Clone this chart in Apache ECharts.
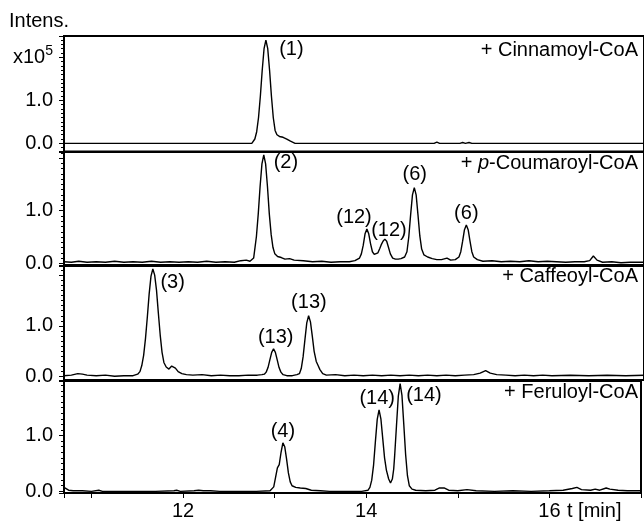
<!DOCTYPE html>
<html>
<head>
<meta charset="utf-8">
<script src="https://cdn.jsdelivr.net/npm/echarts@6/dist/echarts.min.js"></script>
<style>
html, body { margin: 0; padding: 0; background: #fff; }
#main { width: 644px; height: 521px; }
</style>
</head>
<body>
<div id="main"></div>
<script>
// retention time [min] / intensity [x10^5]
var cinnamoylTrace = [[10.70,0],[11.40,0],[12.20,0],[12.74,0],[12.753,0.03],[12.773,0.1],[12.793,0.27],[12.813,0.6],[12.833,1.1],[12.853,1.7],[12.873,2.2],[12.893,2.4],[12.913,2.2],[12.933,1.7],[12.953,1.1],[12.973,0.6],[12.993,0.3],[13.013,0.2],[13.04,0.16],[13.08,0.14],[13.12,0.1],[13.16,0.05],[13.21,0],[14.00,0],[14.72,0],[14.75,0.03],[14.78,0],[15.00,0],[15.03,0.02],[15.06,0],[15.10,0.02],[15.13,0],[16.00,0],[17.00,0]];

var coumaroylTrace = [[10.70,0.03],[10.78,0.02],[10.86,0.04],[10.95,0.02],[11.05,0.03],[11.15,0.02],[11.25,0.04],[11.35,0.02],[11.45,0.03],[11.55,0.02],[11.65,0.04],[11.75,0.02],[11.85,0.03],[11.95,0.02],[12.05,0.03],[12.15,0.02],[12.25,0.04],[12.35,0.02],[12.45,0.03],[12.55,0.02],[12.62,0.05],[12.68,0.06],[12.72,0.04],[12.76,0.1],[12.79,0.51],[12.81,0.94],[12.83,1.46],[12.85,1.89],[12.87,2.06],[12.89,1.89],[12.91,1.46],[12.93,0.94],[12.95,0.55],[12.97,0.3],[12.99,0.18],[13.02,0.13],[13.06,0.11],[13.10,0.08],[13.15,0.09],[13.20,0.06],[13.30,0.05],[13.40,0.03],[13.50,0.04],[13.60,0.02],[13.70,0.03],[13.80,0.03],[13.86,0.05],[13.91,0.1],[13.93,0.18],[13.95,0.34],[13.97,0.56],[13.99,0.65],[14.01,0.56],[14.03,0.37],[14.05,0.22],[14.07,0.17],[14.09,0.16],[14.11,0.2],[14.13,0.28],[14.145,0.35],[14.165,0.42],[14.185,0.46],[14.205,0.42],[14.225,0.3],[14.245,0.18],[14.27,0.1],[14.30,0.08],[14.33,0.08],[14.36,0.09],[14.40,0.12],[14.425,0.22],[14.445,0.5],[14.465,0.92],[14.485,1.3],[14.505,1.44],[14.525,1.3],[14.545,0.92],[14.565,0.52],[14.585,0.27],[14.61,0.16],[14.65,0.12],[14.70,0.09],[14.75,0.07],[14.80,0.07],[14.86,0.1],[14.90,0.06],[14.95,0.07],[14.99,0.12],[15.01,0.22],[15.03,0.42],[15.05,0.64],[15.07,0.73],[15.09,0.64],[15.11,0.42],[15.13,0.22],[15.15,0.12],[15.19,0.07],[15.25,0.04],[15.35,0.05],[15.45,0.03],[15.55,0.04],[15.65,0.03],[15.75,0.05],[15.85,0.03],[15.95,0.04],[16.05,0.03],[16.15,0.02],[16.25,0.03],[16.35,0.03],[16.41,0.05],[16.45,0.14],[16.49,0.06],[16.55,0.02],[16.65,0.03],[16.75,0.01],[16.85,0.02],[17.00,0.02]];

var caffeoylTrace = [[10.70,0.02],[10.78,0.03],[10.85,0.06],[10.90,0.05],[10.95,0.03],[11.05,0.02],[11.15,0.03],[11.25,0.01],[11.35,0.02],[11.45,0.02],[11.50,0.05],[11.525,0.1],[11.545,0.22],[11.565,0.42],[11.585,0.75],[11.605,1.17],[11.625,1.63],[11.645,1.98],[11.665,2.12],[11.685,2.0],[11.705,1.7],[11.725,1.25],[11.745,0.82],[11.765,0.48],[11.785,0.28],[11.81,0.19],[11.84,0.15],[11.87,0.21],[11.89,0.24],[11.91,0.17],[11.94,0.1],[11.98,0.06],[12.03,0.04],[12.10,0.03],[12.20,0.04],[12.30,0.02],[12.40,0.03],[12.50,0.02],[12.60,0.02],[12.70,0.03],[12.80,0.03],[12.85,0.04],[12.876,0.05],[12.896,0.09],[12.916,0.18],[12.936,0.33],[12.956,0.48],[12.976,0.55],[12.996,0.48],[13.016,0.33],[13.036,0.18],[13.056,0.09],[13.08,0.04],[13.12,0.02],[13.18,0.02],[13.23,0.04],[13.257,0.06],[13.277,0.16],[13.297,0.39],[13.317,0.73],[13.337,1.06],[13.357,1.2],[13.377,1.08],[13.397,0.8],[13.417,0.5],[13.44,0.3],[13.46,0.22],[13.48,0.14],[13.51,0.06],[13.55,0.03],[13.65,0.04],[13.75,0.02],[13.85,0.03],[13.95,0.02],[14.05,0.03],[14.15,0.02],[14.25,0.03],[14.35,0.02],[14.45,0.03],[14.55,0.02],[14.65,0.03],[14.75,0.02],[14.85,0.03],[14.95,0.02],[15.05,0.03],[15.15,0.04],[15.22,0.07],[15.28,0.12],[15.33,0.07],[15.40,0.04],[15.50,0.03],[15.60,0.02],[15.70,0.03],[15.80,0.02],[15.90,0.03],[16.00,0.02],[16.20,0.03],[16.40,0.02],[16.60,0.03],[16.80,0.02],[17.00,0.03]];

var feruloylTrace = [[10.70,0.07],[10.72,0.04],[10.75,0.02],[10.80,0.01],[10.90,0.01],[11.00,0.0],[11.08,0.02],[11.12,0.0],[11.30,0.0],[11.50,0.0],[11.70,0.0],[11.90,0.01],[11.93,0.02],[11.97,0.0],[12.12,0.01],[12.17,0.02],[12.22,0.01],[12.30,0.01],[12.40,0.0],[12.60,0.0],[12.80,0.0],[12.95,0.01],[12.97,0.02],[12.99,0.08],[13.01,0.25],[13.03,0.42],[13.05,0.48],[13.07,0.7],[13.09,0.87],[13.11,0.8],[13.13,0.58],[13.15,0.33],[13.17,0.17],[13.19,0.1],[13.23,0.07],[13.28,0.06],[13.34,0.05],[13.40,0.02],[13.50,0.01],[13.60,0.0],[13.80,0.0],[13.95,0.0],[14.02,0.02],[14.04,0.07],[14.06,0.2],[14.08,0.47],[14.10,0.89],[14.12,1.29],[14.14,1.46],[14.16,1.3],[14.18,0.95],[14.20,0.6],[14.22,0.38],[14.245,0.22],[14.265,0.15],[14.285,0.22],[14.30,0.4],[14.31,0.63],[14.33,1.17],[14.35,1.7],[14.37,1.93],[14.39,1.72],[14.41,1.2],[14.43,0.66],[14.45,0.28],[14.47,0.1],[14.50,0.04],[14.54,0.02],[14.65,0.01],[14.75,0.02],[14.80,0.06],[14.85,0.06],[14.90,0.02],[15.00,0.01],[15.10,0.03],[15.20,0.01],[15.40,0.0],[15.60,0.01],[15.80,0.0],[16.00,0.01],[16.15,0.02],[16.25,0.05],[16.30,0.07],[16.35,0.03],[16.45,0.02],[16.50,0.04],[16.55,0.02],[16.62,0.06],[16.66,0.04],[16.75,0.02],[16.85,0.01],[17.00,0.01]];

// peak labels: [t, intensity, text]
var cinnamoylPeaks = [[13.17, 2.17, '(1)']];
var coumaroylPeaks = [[13.11, 1.92, '(2)'], [13.85, 0.87, '(12)'], [14.23, 0.63, '(12)'], [14.51, 1.68, '(6)'], [15.07, 0.95, '(6)']];
var caffeoylPeaks = [[11.88, 1.85, '(3)'], [13.0, 0.78, '(13)'], [13.36, 1.46, '(13)']];
var feruloylPeaks = [[13.09, 1.08, '(4)'], [14.12, 1.66, '(14)'], [14.63, 1.72, '(14)']];

var substrates = ['+ Cinnamoyl-CoA', '+ {i|p}-Coumaroyl-CoA', '+ Caffeoyl-CoA', '+ Feruloyl-CoA'];
var xTickLabels = [12, 14, 16];

var FONT = 'Liberation Sans, Arial, sans-serif';
var FS = 20;

// layout of the four stacked panels
var panels = [
	{trace: cinnamoylTrace, peaks: cinnamoylPeaks, top: 36, height: 115.5, min: -0.19, max: 2.495, labelTop: 40},
	{trace: coumaroylTrace, peaks: coumaroylPeaks, top: 152, height: 113, min: -0.032, max: 2.116, labelTop: 153},
	{trace: caffeoylTrace, peaks: caffeoylPeaks, top: 266, height: 114, min: -0.065, max: 2.18, labelTop: 266.5},
	{trace: feruloylTrace, peaks: feruloylPeaks, top: 381, height: 113, min: -0.03, max: 1.977, labelTop: 382.5}
];

var grids = [], xAxes = [], yAxes = [], series = [];
var titles = [{
	text: 'Intens.', left: 9, top: 11, padding: 0,
	textStyle: {fontFamily: FONT, fontSize: FS, fontWeight: 'normal', color: '#000'}
}];

for (var i = 0; i < panels.length; i++) {
	var p = panels[i];
	var last = (i == panels.length - 1);
	grids.push({left: 64, right: 0, top: p.top, height: p.height, show: true,
		borderColor: '#000', borderWidth: 2, backgroundColor: 'transparent'});

	xAxes.push({
		gridIndex: i, type: 'value', min: 10.7, max: 17.0, minInterval: 1, maxInterval: 1,
		axisLine: {show: last, onZero: false, lineStyle: {color: '#000', width: 2}},
		axisTick: {show: last, length: 5, lineStyle: {color: '#000', width: 1}},
		splitLine: {show: false},
		axisLabel: {
			show: last, margin: 8, fontFamily: FONT, fontSize: FS, color: '#000',
			formatter: function(v) {
				var r = Math.round(v);
				return (Math.abs(v - r) < 1e-6 && xTickLabels.indexOf(r) >= 0) ? String(r) : '';
			}
		},
		name: last ? 't [min]' : '', nameLocation: 'end', nameGap: -74,
		nameTextStyle: {fontFamily: FONT, fontSize: FS, color: '#000', verticalAlign: 'top', padding: [8, 0, 0, 0]}
	});

	yAxes.push({
		gridIndex: i, type: 'value', min: p.min, max: p.max, minInterval: 1, maxInterval: 1,
		axisLine: {show: true, lineStyle: {color: '#000', width: 1.5}},
		axisTick: {show: true, length: 5, lineStyle: {color: '#000', width: 1}},
		minorTick: {show: true, splitNumber: 10, length: 3, lineStyle: {color: '#000', width: 1}},
		splitLine: {show: false},
		axisLabel: {
			margin: 11, fontFamily: FONT, fontSize: FS, color: '#000',
			formatter: (function(first) {
				return function(v) {
					if (Math.abs(v) < 1e-6) return '0.0';
					if (Math.abs(v - 1) < 1e-6) return '1.0';
					if (first && Math.abs(v - 2) < 1e-6) return '{a|x10}{b|5}';
					return '';
				};
			})(i == 0),
			rich: {
				a: {fontFamily: FONT, fontSize: FS, color: '#000'},
				b: {fontFamily: FONT, fontSize: 14, color: '#000', padding: [0, 0, 12, 0]}
			}
		}
	});

	series.push({
		type: 'line', xAxisIndex: i, yAxisIndex: i, data: p.trace,
		showSymbol: false, symbol: 'none', clip: true, silent: true,
		lineStyle: {color: '#000', width: 1.4}
	});

	series.push({
		type: 'scatter', xAxisIndex: i, yAxisIndex: i, symbolSize: 0, silent: true,
		itemStyle: {color: '#000'},
		data: p.peaks.map(function(d) { return {value: [d[0], d[1]], name: d[2]}; }),
		label: {show: true, position: 'inside', formatter: '{b}',
			fontFamily: FONT, fontSize: FS, color: '#000', opacity: 1,
			textBorderWidth: 0, textBorderColor: 'transparent'},
		emphasis: {disabled: true}
	});

	titles.push({
		text: substrates[i], right: 6, top: p.labelTop, padding: 0,
		textStyle: {fontFamily: FONT, fontSize: FS, fontWeight: 'normal', color: '#000',
			rich: {i: {fontFamily: FONT, fontSize: FS, fontStyle: 'italic', color: '#000'}}}
	});
}

var myChart = echarts.init(document.getElementById('main'), null, {renderer: 'canvas'});
myChart.setOption({
	animation: false,
	backgroundColor: '#fff',
	title: titles,
	grid: grids,
	xAxis: xAxes,
	yAxis: yAxes,
	series: series
});
</script>
</body>
</html>
